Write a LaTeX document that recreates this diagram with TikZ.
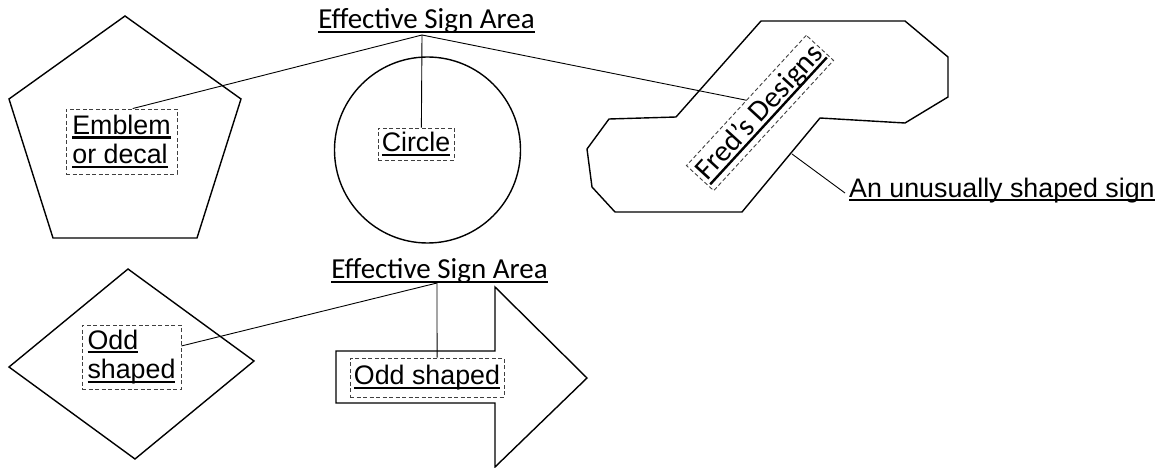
\documentclass[tikz,border=0pt]{standalone}
\usepackage{fontspec}
\setmainfont{Liberation Sans}
\newfontfamily\calibri{Carlito}
\usetikzlibrary{calc}

% underline at a fixed distance below the baseline, Word style
\newcommand\ulx[1]{\setbox0\hbox{#1}\rlap{\rule[-0.16em]{\wd0}{0.08em}}\box0}

\begin{document}
\begin{tikzpicture}[x=1pt,y=-1pt,
  signline/.style={draw=black, line width=1.4pt, line join=miter},
  lead/.style={draw=black, line width=0.9pt},
  tagbox/.style={draw=black!75, dash pattern=on 4pt off 2.5pt, line width=0.9pt,
    inner sep=0pt, align=left, font=\fontsize{26.8}{29.5}\selectfont},
  areatitle/.style={inner sep=0pt, anchor=base, font=\calibri\fontsize{29}{32}\selectfont},
]
\useasboundingbox (0,0) rectangle (1163,468);

% ---- upper row of signs ----
\draw[signline] (125,16) -- (241,99) -- (197,238) -- (53,238) -- (9,99) -- cycle;
\draw[signline] (427.5,150) circle[radius=93];
\draw[signline] (761,21) -- (905,21) -- (948,57) -- (948,97) -- (905,123)
  -- (820,118) -- (742,212) -- (615,212) -- (592,187) -- (587,149)
  -- (609,119) -- (676,117) -- cycle;

\node[areatitle] (esa1) at (426.5,28.5) {\ulx{Effective Sign Area}};
\coordinate (hub1) at (422,35);

\node[tagbox, minimum width=111pt, minimum height=65pt] (emblem) at (121.5,141.5)
  {\ulx{Emblem}\\\ulx{or decal}};
\node[tagbox, minimum width=76pt, minimum height=32pt] (circ) at (416,144)
  {\ulx{Circle}};
\node[tagbox, font=\calibri\fontsize{30}{32}\selectfont, minimum width=177pt,
  minimum height=37pt, rotate=47.4] (fred) at (760,113) {\ulx{Fred’s Designs}};

\draw[lead] (hub1) -- ($(emblem.north west)!0.6!(emblem.north east)$);
\draw[lead] (hub1) -- ($(circ.north west)!0.57!(circ.north east)$);
\draw[lead] (hub1) -- (fred.north);

\node[inner sep=0pt, anchor=base west, font=\fontsize{26.8}{29.5}\selectfont] (sign)
  at (849,197) {\ulx{An unusually shaped sign}};
\coordinate (edge) at (792,154);
\draw[lead] (edge) -- ($(sign.base west)+(-4,-4)$);

% ---- lower row of signs ----
\draw[signline] (128,269) -- (254,361) -- (135,459) -- (9,367) -- cycle;
\draw[signline] (336,351) -- (495,351) -- (495,287) -- (587,378) -- (495,467)
  -- (495,403) -- (336,403) -- cycle;

\node[areatitle] (esa2) at (439.5,278.5) {\ulx{Effective Sign Area}};
\coordinate (hub2) at (437,283);

\node[tagbox, minimum width=99pt, minimum height=64pt] (odd1) at (131.5,357)
  {\ulx{Odd}\\\ulx{shaped}};
\node[tagbox, minimum width=154pt, minimum height=39pt] (odd2) at (427,377.5)
  {\ulx{Odd shaped}};

\draw[lead] (hub2) -- ($(odd1.north east)!0.33!(odd1.south east)$);
\draw[lead] (hub2) -- ($(odd2.north west)!0.565!(odd2.north east)$);
\end{tikzpicture}
\end{document}
